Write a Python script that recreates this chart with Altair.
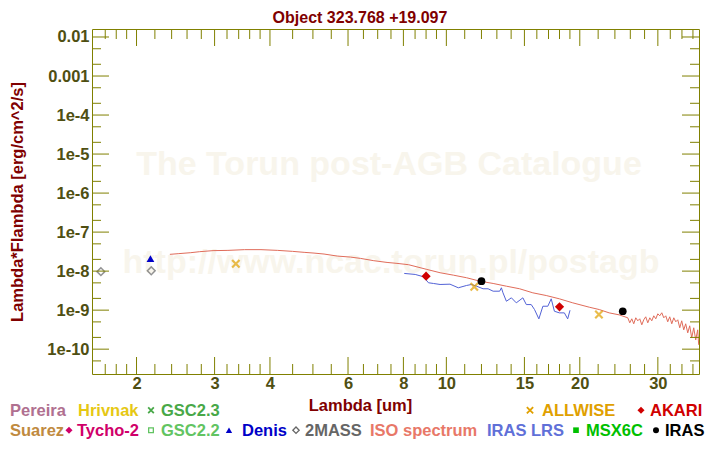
import altair as alt
import pandas as pd

# ---------------- data ----------------
iso_wl = [2.378, 2.483, 2.651, 2.777, 2.976, 3.215, 3.504, 3.818, 4.164, 4.499,
          4.777, 5.029, 5.297, 5.675, 6.080, 6.402, 6.860, 7.349, 7.738, 8.217,
          9.036, 9.678, 10.37, 11.11, 11.90, 12.75, 13.66, 14.63, 15.67, 16.80,
          17.99, 19.28, 21.01, 22.13, 23.30, 24.54,
          25.66, 25.93, 26.20, 26.47, 26.75, 27.03, 27.31, 27.60, 27.88, 28.17,
          28.47, 28.77, 29.07, 29.37, 29.68, 29.99, 30.30, 30.62, 30.94, 31.26,
          31.58, 31.91, 32.25, 32.59, 32.93, 33.27, 33.62, 33.96, 34.32, 34.67,
          35.04, 35.40, 35.77, 36.15, 36.52, 36.90, 37.09]
iso_flux = [2.69e-8, 2.80e-8, 2.97e-8, 3.15e-8, 3.35e-8, 3.40e-8, 3.55e-8, 3.55e-8, 3.40e-8, 3.21e-8,
            3.03e-8, 2.90e-8, 2.74e-8, 2.43e-8, 2.29e-8, 2.12e-8, 1.85e-8, 1.67e-8, 1.58e-8, 1.46e-8,
            1.106e-8, 9.10e-9, 7.89e-9, 6.76e-9, 5.53e-9, 4.83e-9, 4.11e-9, 3.53e-9, 2.78e-9, 2.37e-9,
            1.95e-9, 1.54e-9, 1.19e-9, 1.036e-9, 8.52e-10, 7.57e-10,
            6.37e-10, 4.74e-10, 6.00e-10, 4.47e-10, 6.37e-10, 5.33e-10, 6.00e-10, 4.21e-10, 5.66e-10, 6.75e-10,
            4.74e-10, 6.37e-10, 5.33e-10, 7.16e-10, 6.00e-10, 8.06e-10, 7.16e-10, 8.56e-10, 6.37e-10, 7.16e-10,
            5.03e-10, 6.75e-10, 4.47e-10, 6.37e-10, 5.03e-10, 5.66e-10, 3.53e-10, 5.33e-10, 3.13e-10, 4.47e-10,
            2.62e-10, 3.97e-10, 1.95e-10, 3.53e-10, 1.73e-10, 3.13e-10, 1.29e-10]

lrs_wl = [8.035, 8.506, 8.879, 9.112, 9.350, 9.678, 10.19, 10.64, 11.11, 11.40,
          11.70, 12.10, 12.42, 12.75, 13.19, 13.31, 13.42, 13.66, 14.02, 14.38,
          14.88, 15.15, 15.54, 15.81, 16.17, 16.51, 16.94, 17.24, 17.53, 17.99,
          18.46, 18.78, 19.01]
lrs_flux = [8.73e-9, 8.22e-9, 7.18e-9, 5.03e-9, 4.83e-9, 4.55e-9, 4.63e-9, 3.74e-9, 4.29e-9, 4.55e-9,
            4.11e-9, 3.53e-9, 3.53e-9, 3.06e-9, 3.06e-9, 3.74e-9, 2.78e-9, 1.69e-9, 2.07e-9, 1.54e-9,
            2.07e-9, 1.39e-9, 1.39e-9, 1.036e-9, 5.97e-10, 1.26e-9, 1.26e-9, 1.95e-9, 9.37e-10, 8.52e-10,
            8.52e-10, 5.97e-10, 9.94e-10]

twomass_wl = [1.662, 2.159]
twomass_flux = [9.7e-9, 1.02e-8]
denis_wl = [2.15]
denis_flux = [2.08e-8]
allwise_wl = [3.35, 11.56, 22.09]
allwise_flux = [1.55e-8, 3.97e-9, 7.71e-10]
akari_wl = [9.0, 18.0]
akari_flux = [7.44e-9, 1.22e-9]
iras_wl = [12.0, 25.0]
iras_flux = [5.53e-9, 9.37e-10]

x_label_values = [2, 3, 4, 6, 8, 10, 15, 20, 30]
x_minor_values = [1.7, 1.8, 1.9, 2.2, 2.4, 2.6, 2.8, 3.2, 3.4, 3.6, 3.8,
                  4.5, 5, 5.5, 6.5, 7, 7.5, 8.5, 9, 9.5,
                  11, 12, 13, 14, 16, 17, 18, 19, 22, 24, 26, 28, 32, 34, 36]
y_major_values = [1e-10, 1e-9, 1e-8, 1e-7, 1e-6, 1e-5, 1e-4, 1e-3, 1e-2]
y_minor_values = [5e-11, 2e-10, 5e-10, 2e-9, 5e-9, 2e-8, 5e-8, 2e-7, 5e-7, 2e-6, 5e-6,
                  2e-5, 5e-5, 2e-4, 5e-4, 2e-3, 5e-3]

TITLE = "Object 323.768 +19.097"

# ---------------- style ----------------
FONT = "Liberation Sans"
FS = 16.5
OLIVE = "#808000"
LABEL = "#4f4f12"
DARKRED = "#800000"
W, H = 607, 345
XCROSS = "M-1,-1L1,1M-1,1L1,-1"

xscale = alt.Scale(type="log", domain=[1.587, 37.15], nice=False)
yscale = alt.Scale(type="log", domain=[2.31e-11, 0.01603], nice=False)

X_AXIS = alt.Axis(
    values=x_label_values, format="d", title="Lambda [um]",
    titleX=268, titleY=36, titleAlign="center", titleBaseline="alphabetic",
    ticks=False, domain=False, grid=False, labelPadding=1,
    labelFlush=False, labelOverlap=False)
Y_AXIS = alt.Axis(
    values=y_major_values,
    labelExpr="datum.value > 0.005 ? '0.01' : (datum.value > 0.0005 ? '0.001' : ('1e' + round(log(datum.value) / LN10)))",
    title="Lambda*Flambda [erg/cm^2/s]",
    titleX=-70, titleY=H / 2, titleAngle=270, titleAlign="center", titleBaseline="alphabetic",
    ticks=False, domain=False, grid=False, labelPadding=3,
    labelFlush=False, labelOverlap=False)


def X():
    return alt.X("x:Q", scale=xscale, axis=X_AXIS)


def Y():
    return alt.Y("y:Q", scale=yscale, axis=Y_AXIS)


def xy(a, b):
    return pd.DataFrame({"x": a, "y": b})


one = pd.DataFrame({"k": [0]})
layers = []

# watermark
for txt, px, py in [("The Torun post-AGB Catalogue", 297, 146),
                    ("http://www.ncac.torun.pl/postagb", 299, 244)]:
    layers.append(alt.Chart(one).mark_text(
        text=txt, font=FONT, fontSize=34, fontWeight="bold", color="#f8f5ec",
        align="center", baseline="alphabetic"
    ).encode(x=alt.value(px), y=alt.value(py)))

layers.append(alt.Chart(xy(iso_wl, iso_flux)).mark_line(
    color="#e06c5a", strokeWidth=1).encode(x=X(), y=Y()))
layers.append(alt.Chart(xy(lrs_wl, lrs_flux)).mark_line(
    color="#5262d6", strokeWidth=1).encode(x=X(), y=Y()))

layers.append(alt.Chart(xy(twomass_wl, twomass_flux)).mark_point(
    shape="diamond", filled=False, color="#666666", strokeWidth=1.5, size=60).encode(x=X(), y=Y()))
layers.append(alt.Chart(xy(denis_wl, denis_flux)).mark_point(
    shape="triangle-up", filled=True, color="#0000c8", opacity=1, size=60).encode(x=X(), y=Y()))
layers.append(alt.Chart(xy(allwise_wl, allwise_flux)).mark_point(
    shape=XCROSS, filled=False, color="#e0a000", strokeWidth=2.2, size=55).encode(x=X(), y=Y()))
layers.append(alt.Chart(xy(akari_wl, akari_flux)).mark_point(
    shape="diamond", filled=True, color="#d00000", opacity=1, size=85).encode(x=X(), y=Y()))
layers.append(alt.Chart(xy(iras_wl, iras_flux)).mark_point(
    shape="circle", filled=True, color="#000000", opacity=1, size=60).encode(x=X(), y=Y()))


# inward ticks on all four sides
def xticks(vals, length):
    df = pd.DataFrame({"x": vals})
    return [alt.Chart(df).mark_rule(color=OLIVE, strokeWidth=1).encode(
        x=X(), y=alt.value(y0), y2=alt.value(y1))
        for y0, y1 in [(H, H - length), (0, length)]]


def yticks(vals, length):
    df = pd.DataFrame({"y": vals})
    return [alt.Chart(df).mark_rule(color=OLIVE, strokeWidth=1).encode(
        y=Y(), x=alt.value(x0), x2=alt.value(x1))
        for x0, x1 in [(0, length), (W, W - length)]]


layers += xticks(x_label_values, 17) + xticks(x_minor_values, 10)
layers += yticks(y_major_values, 17) + yticks(y_minor_values, 9)

# chart title (text placed above the plot, centred on the page)
layers.append(alt.Chart(one).mark_text(
    text=TITLE, font=FONT, fontSize=16, fontWeight="bold", color=DARKRED,
    align="center", baseline="alphabetic"
).encode(x=alt.value(268), y=alt.value(-6)))

# custom legend below the plot
R1, R2 = 386.7, 406.7
legend_text = [
    ("Pereira", "#b07090", -82, R1), ("Hrivnak", "#e6c814", -14, R1),
    ("GSC2.3", "#48a848", 69, R1), ("ALLWISE", "#e0a000", 450, R1),
    ("AKARI", "#d00000", 558, R1),
    ("Suarez", "#c08a40", -82, R2), ("Tycho-2", "#d0006a", -15, R2),
    ("GSC2.2", "#62c462", 69, R2), ("Denis", "#0000c8", 150, R2),
    ("2MASS", "#666666", 213, R2), ("ISO spectrum", "#e87868", 278, R2),
    ("IRAS LRS", "#6070d8", 395, R2), ("MSX6C", "#00c000", 494, R2),
    ("IRAS", "#000000", 573, R2),
]
for txt, col, px, py in legend_text:
    layers.append(alt.Chart(one).mark_text(
        text=txt, font=FONT, fontSize=FS, fontWeight="bold", color=col,
        align="left", baseline="alphabetic"
    ).encode(x=alt.value(px), y=alt.value(py)))

S1, S2 = R1 - 5.5, R2 - 5.5
legend_sym = [
    (XCROSS, False, "#48a848", 59, S1, 32),
    (XCROSS, False, "#e0a000", 438, S1, 40),
    ("diamond", True, "#d00000", 549, S1, 50),
    ("diamond", True, "#d0006a", -23, S2, 50),
    ("square", False, "#62c462", 59, S2, 22),
    ("triangle-up", True, "#0000c8", 137, S2, 40),
    ("diamond", False, "#666666", 204, S2, 40),
    ("square", True, "#00c000", 484, S2, 32),
    ("circle", True, "#000000", 564, S2, 36),
]
for shp, fill, col, px, py, sz in legend_sym:
    layers.append(alt.Chart(one).mark_point(
        shape=shp, filled=fill, color=col, size=sz, opacity=1,
        strokeWidth=(1.8 if shp == XCROSS else 1.3)
    ).encode(x=alt.value(px), y=alt.value(py)))

chart = alt.layer(*layers).properties(
    width=W, height=H,
    autosize=alt.AutoSizeParams(type="none"),
    padding={"left": 84, "top": 21, "right": 13, "bottom": 70},
).configure_view(stroke=OLIVE, strokeWidth=1).configure_axis(
    labelFont=FONT, labelFontSize=FS, labelFontWeight="bold", labelColor=LABEL,
    titleFont=FONT, titleFontSize=FS, titleFontWeight="bold", titleColor=DARKRED,
)

chart.save("out.html", embed_options={"renderer": "svg", "actions": False})
